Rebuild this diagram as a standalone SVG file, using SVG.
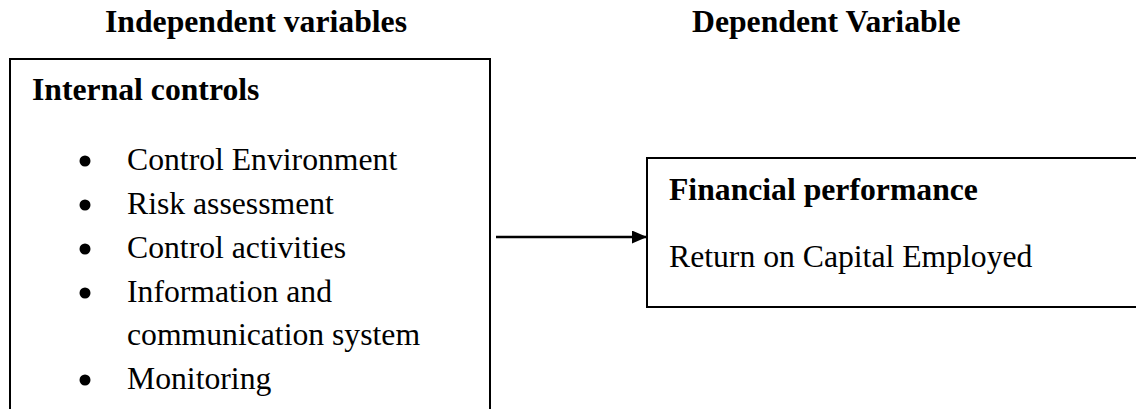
<svg xmlns="http://www.w3.org/2000/svg" width="1136" height="409" viewBox="0 0 1136 409">
<defs>
<style>
text{font-family:"Liberation Serif","Times New Roman",serif;font-size:31.7px;fill:#000}
.b{font-weight:bold}
.box{fill:#fff;stroke:#000;stroke-width:2}
.dot{fill:#000}
.conn{stroke:#000;stroke-width:2.5;fill:none}
</style>
<marker id="arr" markerWidth="15" markerHeight="13" refX="15" refY="6.5" orient="auto" markerUnits="userSpaceOnUse">
<path d="M0,0 L15,6.5 L0,13 Z" fill="#000"/>
</marker>
</defs>
<rect width="1136" height="409" fill="#fff"/>
<g id="titles">
<text class="b" x="105" y="32">Independent variables</text>
<text class="b" x="692" y="32">Dependent Variable</text>
</g>
<g id="node-internal-controls">
<rect class="box" x="10" y="59" width="480" height="360"/>
<text class="b" x="32" y="100">Internal controls</text>
<circle class="dot" cx="85" cy="161" r="5.5"/>
<text x="127" y="170">Control Environment</text>
<circle class="dot" cx="85" cy="205" r="5.5"/>
<text x="127" y="214">Risk assessment</text>
<circle class="dot" cx="85" cy="249" r="5.5"/>
<text x="127" y="258">Control activities</text>
<circle class="dot" cx="85" cy="293" r="5.5"/>
<text x="127" y="302">Information and</text>
<text x="127" y="345">communication system</text>
<circle class="dot" cx="85" cy="380" r="5.5"/>
<text x="127" y="389">Monitoring</text>
</g>
<g id="node-financial-performance">
<rect class="box" x="647" y="158" width="500" height="149"/>
<text class="b" x="669" y="200">Financial performance</text>
<text x="669" y="267">Return on Capital Employed</text>
</g>
<g id="connectors">
<line class="conn" x1="496" y1="237" x2="647" y2="237" marker-end="url(#arr)"/>
</g>
</svg>
